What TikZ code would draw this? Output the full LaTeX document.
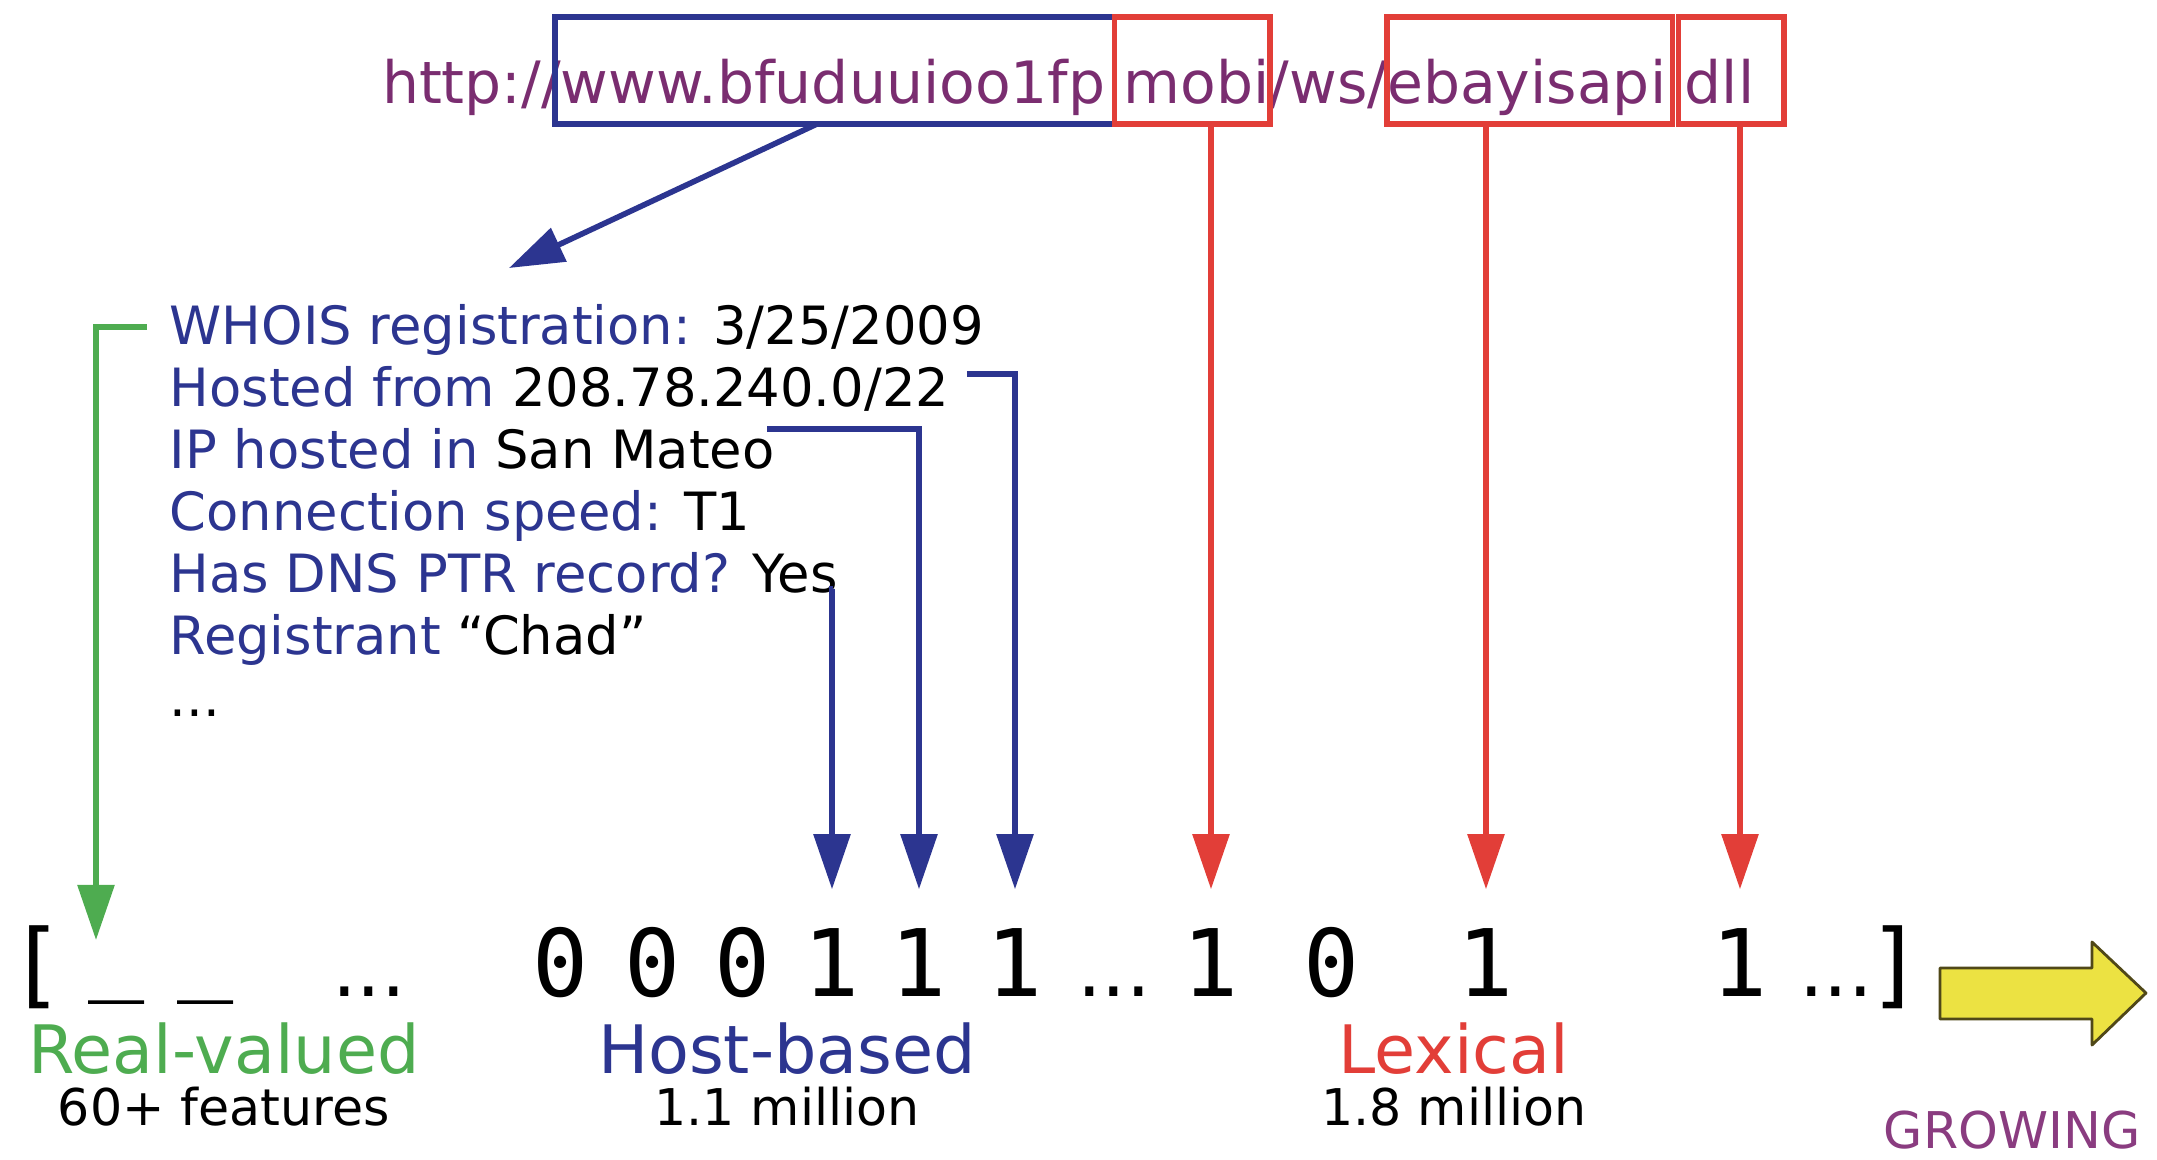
\documentclass[tikz,border=0pt]{standalone}
\usepackage{fontspec}
\setmainfont{DejaVu Sans}
\newfontfamily\bitfont{DejaVu Sans Mono}
\usepackage{xcolor}
\usetikzlibrary{arrows.meta,calc,fit}

\definecolor{urlpurple}{RGB}{122,45,112}
\definecolor{hostblue}{RGB}{44,53,144}
\definecolor{lexred}{RGB}{226,62,56}
\definecolor{realgreen}{RGB}{78,172,80}
\definecolor{growpurple}{RGB}{138,60,128}
\definecolor{growyellow}{RGB}{236,226,66}
\definecolor{growedge}{RGB}{80,72,24}

\newcommand{\featval}[1]{\textcolor{black}{#1}}

\tikzset{
	urlpart/.style={anchor=base west, inner sep=0pt, outer sep=0pt, text=urlpurple,
			text height=0.86cm, text depth=0.21cm, font=\fontsize{16.6}{20}\selectfont},
	urlbox/.style={draw=#1, line width=1.6pt, inner sep=0pt, outer sep=0pt},
	feature/.style={anchor=base west, inner sep=0pt, text=hostblue, font=\fontsize{15}{18}\selectfont},
	bit/.style={anchor=base, inner sep=0pt, text height=1.06cm, text depth=0pt,
			font=\bitfont\fontsize{26.5}{30}\selectfont},
	ellip/.style={anchor=base, inner sep=0pt, font=\fontsize{22}{26}\selectfont},
	groupname/.style={anchor=base, inner sep=0pt, font=\fontsize{19}{23}\selectfont},
	groupsize/.style={anchor=base, inner sep=0pt, font=\fontsize{14.4}{17}\selectfont},
	pointer/.style={line width=1.6pt, -{Triangle[length=0.55cm,width=0.36cm]}},
}

\begin{document}
\begin{tikzpicture}[x=0.01cm, y=-0.01cm]
	\useasboundingbox (0,0) rectangle (2157,1159);

	% The URL, cut in pieces (the dots lie under the box edges)
	\node[urlpart] (u1) at (382,103) {http:/};
	\node[urlpart] (u2) at (u1.base east) {/www.bfuduuioo1fp};
	\node[urlpart] (u3) at (u2.base east) {\phantom{.}};
	\node[urlpart] (u4) at (u3.base east) {mobi};
	\node[urlpart] (u5) at (u4.base east) {/ws/};
	\node[urlpart] (u6) at (u5.base east) {ebayisapi};
	\node[urlpart] (u7) at (u6.base east) {\phantom{.}};
	\node[urlpart] (u8) at (u7.base east) {dll};

	% Boxes round the host and the tokens
	\node[urlbox=hostblue, fit={($(u2.north west)+(14,0)$) (u3.south)}] (hostbox) {};
	\node[urlbox=lexred, fit={(u3.north) (u5.south west)}] (mobibox) {};
	\node[urlbox=lexred, fit={(u5.north east) ($(u7.south)+(-3,0)$)}] (ebaybox) {};
	\node[urlbox=lexred, fit={($(u7.north)+(3,0)$) ($(u8.south east)+(30,0)$)}] (dllbox) {};

	% Host information
	\node[feature] (whois) at (169,344) {WHOIS registration: \featval{3/25/2009}};
	\node[feature] (hosted) at (169,406) {Hosted from \featval{208.78.240.0/22}};
	\node[feature] (ipcity) at (169,468) {IP hosted in \featval{San Mateo}};
	\node[feature] (speed) at (169,530) {Connection speed: \featval{T1}};
	\node[feature] (dnsptr) at (169,592) {Has DNS PTR record? \featval{Yes}};
	\node[feature] (registrant) at (169,654) {Registrant \featval{“Chad”}};
	\node[feature] (more) at (169,716) {\featval{...}};

	% The feature vector
	\node[bit] (lbr) at (37,996) {[};
	\node[bit] (us1) at (117,982) {\_};
	\node[bit] (us2) at (206,982) {\_};
	\node[ellip] (dots1) at (369,996) {...};
	\node[bit] (b1) at (561,996) {0};
	\node[bit] (b2) at (653,996) {0};
	\node[bit] (b3) at (743,996) {0};
	\node[bit] (b4) at (832,996) {1};
	\node[bit] (b5) at (919,996) {1};
	\node[bit] (b6) at (1015,996) {1};
	\node[ellip] (dots2) at (1114,996) {...};
	\node[bit] (b7) at (1211,996) {1};
	\node[bit] (b8) at (1332,996) {0};
	\node[bit] (b9) at (1486,996) {1};
	\node[bit] (b10) at (1740,996) {1};
	\node[ellip] (dots3) at (1836,996) {...};
	\node[bit] (rbr) at (1896,996) {]};
	\coordinate (realtip) at (96,940);

	% Feature groups
	\node[groupname, text=realgreen] (realname) at (224,1073) {Real-valued};
	\node[groupsize] (realsize) at (224,1125) {60+ features};
	\node[groupname, text=hostblue] (hostname) at (787,1073) {Host-based};
	\node[groupsize] (hostsize) at (787,1125) {1.1 million};
	\node[groupname, text=lexred] (lexname) at (1454,1073) {Lexical};
	\node[groupsize] (lexsize) at (1454,1125) {1.8 million};
	\node[groupsize, text=growpurple] (growing) at (2012,1148) {GROWING};

	% Host lookup
	\draw[pointer, hostblue] ($(hostbox.south)+(-18,0)$) -- ($(whois.base west)+(340,-76)$);

	% Real-valued features
	\draw[pointer, realgreen] ($(whois.base west)+(-22,-17)$) -| (realtip);

	% Host-based features
	\draw[pointer, hostblue] ($(hosted.base east)+(17,-32)$) -| (b6.north);
	\draw[pointer, hostblue] ($(ipcity.base east)+(-8,-39)$) -| (b5.north);
	\draw[pointer, hostblue] ($(dnsptr.base east)+(-6,-3)$) -| (b4.north);

	% Lexical features
	\draw[pointer, lexred] (b7.north |- mobibox.south) -- (b7.north);
	\draw[pointer, lexred] (b9.north |- ebaybox.south) -- (b9.north);
	\draw[pointer, lexred] (b10.north |- dllbox.south) -- (b10.north);

	% Growing arrow
	\draw[fill=growyellow, draw=growedge, line width=0.8pt, line join=round]
		(1940,968) -- (2092,968) -- (2092,942) -- (2146,993) -- (2092,1045)
		-- (2092,1019) -- (1940,1019) -- cycle;
\end{tikzpicture}
\end{document}
